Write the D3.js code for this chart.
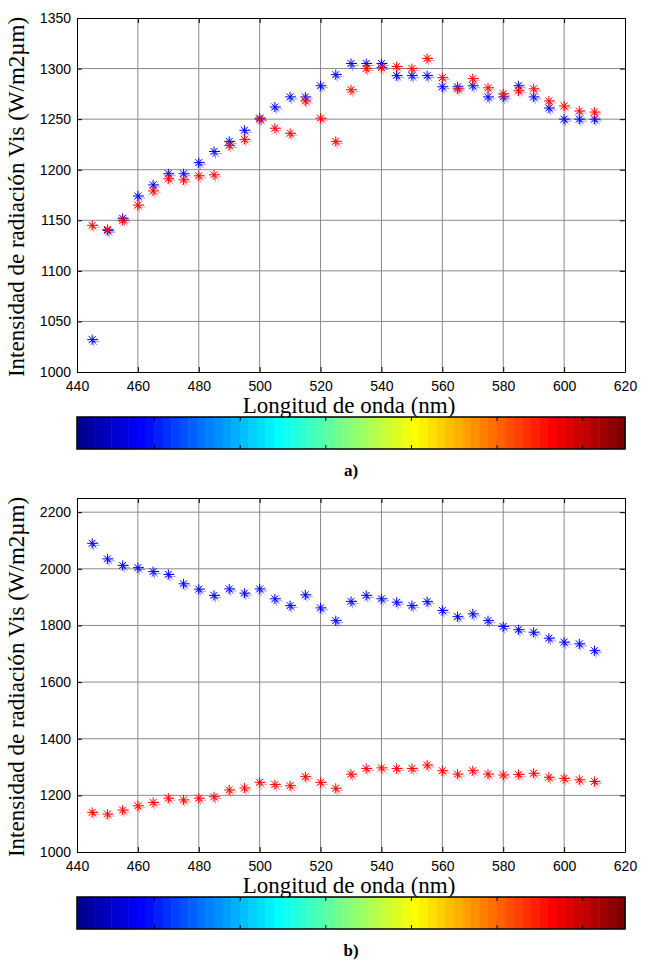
<!DOCTYPE html>
<html>
<head>
<meta charset="utf-8">
<script src="https://cdn.jsdelivr.net/npm/d3@7"></script>
<style>
  body { margin: 0; background: #fff; }
  svg { display: block; }
  .tick text { font-family: "Liberation Sans", Arial, sans-serif; font-size: 14px; fill: #000; }
</style>
</head>
<body>
<div id="chart"></div>
<script>
// wavelengths (nm)
const wavelengths = [445, 450, 455, 460, 465, 470, 475, 480, 485, 490, 495, 500, 505, 510, 515, 520, 525,
  530, 535, 540, 545, 550, 555, 560, 565, 570, 575, 580, 585, 590, 595, 600, 605, 610];

// panel a)
const aBlue = [1032, 1140, 1152, 1174, 1185, 1196, 1196, 1207, 1218, 1228, 1239, 1251, 1262, 1272, 1272, 1283, 1294,
  1305, 1305, 1305, 1293, 1293, 1293, 1282, 1282, 1283, 1272, 1272, 1283, 1272, 1261, 1250, 1250, 1250];
const aRed = [1145, 1141, 1150, 1165, 1179, 1191, 1190, 1194, 1195, 1224, 1230, 1250, 1241, 1236, 1268, 1251, 1228,
  1279, 1300, 1301, 1302, 1300, 1310, 1291, 1280, 1290, 1281, 1275, 1278, 1280, 1268, 1263, 1258, 1257];

// panel b)
const bBlue = [2090, 2035, 2012, 2004, 1990, 1980, 1947, 1928, 1906, 1929, 1914, 1929, 1894, 1870, 1908, 1862, 1817,
  1885, 1906, 1894, 1882, 1870, 1884, 1853, 1831, 1841, 1817, 1796, 1785, 1776, 1755, 1741, 1735, 1711];
const bRed = [1140, 1134, 1148, 1163, 1175, 1190, 1184, 1190, 1195, 1219, 1226, 1246, 1238, 1234, 1266, 1246, 1225,
  1275, 1295, 1297, 1295, 1295, 1307, 1287, 1275, 1287, 1275, 1272, 1274, 1278, 1264, 1260, 1255, 1249];

const xTicks = [440, 460, 480, 500, 520, 540, 560, 580, 600, 620];
const yTicksA = [1000, 1050, 1100, 1150, 1200, 1250, 1300, 1350];
const yTicksB = [1000, 1200, 1400, 1600, 1800, 2000, 2200];
const cbarTicks = [10, 20, 30, 40, 50, 60];

const W = 652, H = 962;
const svg = d3.select("#chart").append("svg")
  .attr("width", W)
  .attr("height", H);

// jet colormap, 64 entries
function jet(i) {
  const x = (i + 1) / 64;
  const c = v => Math.round(255 * Math.max(0, Math.min(1, v)));
  return d3.rgb(c(1.5 - Math.abs(4 * x - 3)), c(1.5 - Math.abs(4 * x - 2)), c(1.5 - Math.abs(4 * x - 1)));
}

// asterisk marker like matlab '*'
function star(r) {
  const d = r * 0.7;
  return `M${-r},0H${r + 1}M0,${-r}V${r}M${-d},${-d}L${d},${d}M${-d},${d}L${d},${-d}`;
}

function drawPanel(p) {
  const left = 77, right = 625;
  const x = d3.scaleLinear().domain([440, 620]).range([left, right]);
  const y = d3.scaleLinear().domain(p.yDomain).range([p.bottom, p.top]);
  const fmt = d3.format("d");

  const g = svg.append("g");

  // grid
  g.append("g").selectAll("line")
    .data(xTicks.slice(1, -1))
    .join("line")
    .attr("x1", d => x(d)).attr("x2", d => x(d))
    .attr("y1", p.top).attr("y2", p.bottom)
    .attr("stroke", "#8a8a8a").attr("stroke-width", 1);
  g.append("g").selectAll("line")
    .data(p.yTicks.filter(d => d > p.yDomain[0] && d < p.yDomain[1]))
    .join("line")
    .attr("x1", left).attr("x2", right)
    .attr("y1", d => y(d)).attr("y2", d => y(d))
    .attr("stroke", "#8a8a8a").attr("stroke-width", 1);

  // axes (ticks inward)
  g.append("g")
    .attr("transform", `translate(0,${p.bottom})`)
    .call(d3.axisBottom(x).tickValues(xTicks).tickFormat(fmt).tickSizeInner(-5).tickSizeOuter(0).tickPadding(9));
  g.append("g")
    .attr("transform", `translate(0,${p.top})`)
    .call(d3.axisTop(x).tickValues(xTicks).tickSizeInner(-5).tickSizeOuter(0).tickFormat(""));
  g.append("g")
    .attr("transform", `translate(${left},0)`)
    .call(d3.axisLeft(y).tickValues(p.yTicks).tickFormat(fmt).tickSizeInner(-5).tickSizeOuter(0).tickPadding(6));
  g.append("g")
    .attr("transform", `translate(${right},0)`)
    .call(d3.axisRight(y).tickValues(p.yTicks).tickSizeInner(-5).tickSizeOuter(0).tickFormat(""));
  g.selectAll(".domain").attr("stroke", "#000");
  g.selectAll(".tick line").attr("stroke", "#000");

  // markers
  const series = [
    { vals: p.blue, color: "#0000ff" },
    { vals: p.red, color: "#ff0000" }
  ];
  series.forEach(s => {
    const pts = wavelengths.map((w, i) => [x(w), y(s.vals[i])]);
    g.append("g").selectAll("path")
      .data(pts)
      .join("path")
      .attr("d", star(5))
      .attr("transform", d => `translate(${d[0] + 1.5},${d[1] + 2})`)
      .attr("fill", "none")
      .attr("stroke", s.color)
      .attr("stroke-opacity", 0.4)
      .attr("stroke-width", 1);
    g.append("g").selectAll("path")
      .data(pts)
      .join("path")
      .attr("d", star(5))
      .attr("transform", d => `translate(${d[0]},${d[1]})`)
      .attr("fill", "none")
      .attr("stroke", s.color)
      .attr("stroke-width", 1);
  });

  // y label
  g.append("text")
    .attr("transform", `translate(24,${(p.top + p.bottom) / 2 + 2}) rotate(-90)`)
    .attr("text-anchor", "middle")
    .style("font-family", "'Liberation Serif', 'Times New Roman', serif")
    .style("font-size", "23px")
    .text("Intensidad de radiación Vis (W/m2µm)");

  // x label
  g.append("text")
    .attr("x", (left + right) / 2 - 2)
    .attr("y", p.bottom + 41)
    .attr("text-anchor", "middle")
    .style("font-family", "'Liberation Serif', 'Times New Roman', serif")
    .style("font-size", "23px")
    .text("Longitud de onda (nm)");

  // colorbar
  const cbTop = p.bottom + 45, cbH = 32;
  const cx = d3.scaleLinear().domain([1, 65]).range([left, right]);
  g.append("g").selectAll("rect")
    .data(d3.range(64))
    .join("rect")
    .attr("x", d => cx(d + 1))
    .attr("y", cbTop)
    .attr("width", d => cx(d + 2) - cx(d + 1) + 0.5)
    .attr("height", cbH)
    .attr("fill", d => jet(d));
  g.append("rect")
    .attr("x", left).attr("y", cbTop)
    .attr("width", right - left).attr("height", cbH)
    .attr("fill", "none").attr("stroke", "#000").attr("stroke-width", 1.5);
  g.append("g")
    .attr("transform", `translate(0,${cbTop})`)
    .call(d3.axisTop(cx).tickValues(cbarTicks).tickSizeInner(-4).tickSizeOuter(0).tickFormat(""))
    .call(a => a.select(".domain").remove());
  g.append("g")
    .attr("transform", `translate(0,${cbTop + cbH})`)
    .call(d3.axisBottom(cx).tickValues(cbarTicks).tickSizeInner(-4).tickSizeOuter(0).tickFormat(""))
    .call(a => a.select(".domain").remove());

  // panel letter
  g.append("text")
    .attr("x", (left + right) / 2)
    .attr("y", cbTop + cbH + 27)
    .attr("text-anchor", "middle")
    .style("font-family", "'Liberation Serif', 'Times New Roman', serif")
    .style("font-size", "17px")
    .style("font-weight", "bold")
    .text(p.letter);
}

drawPanel({ top: 18, bottom: 372, yDomain: [1000, 1350], yTicks: yTicksA, blue: aBlue, red: aRed, letter: "a)" });
drawPanel({ top: 498, bottom: 852, yDomain: [1000, 2250], yTicks: yTicksB, blue: bBlue, red: bRed, letter: "b)" });
</script>
</body>
</html>
